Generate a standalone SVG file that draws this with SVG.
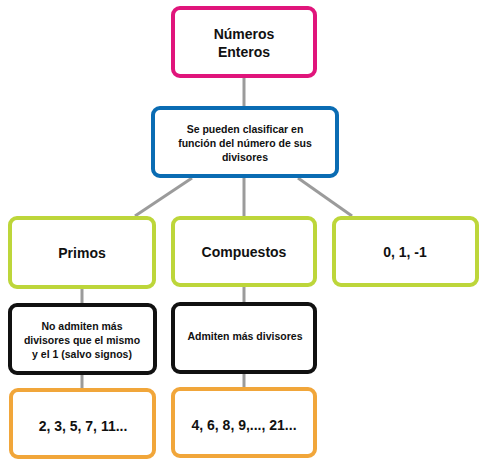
<svg xmlns="http://www.w3.org/2000/svg" width="486" height="464" viewBox="0 0 486 464">
<style>
.box{fill:#fff;stroke-width:4}
.pink{stroke:#e0157b}
.blue{stroke:#0a6cb3}
.green{stroke:#bdd63a}
.black{stroke:#111}
.orange{stroke:#f1a63a}
.c{stroke:#9b9b9b;stroke-width:3;fill:none}
text{font-family:"Liberation Sans",Arial,sans-serif;font-weight:bold;fill:#111;text-anchor:middle}
.t14{font-size:14px}
.t105{font-size:10.5px}
</style>
<rect width="486" height="464" fill="#fff"/>
<g id="connectors">
<line class="c" x1="244" y1="78" x2="244" y2="106"/>
<line class="c" x1="192" y1="178" x2="135" y2="216"/>
<line class="c" x1="244" y1="178" x2="244" y2="216"/>
<line class="c" x1="298" y1="178" x2="352" y2="216"/>
<line class="c" x1="82" y1="289" x2="82" y2="303"/>
<line class="c" x1="244" y1="287" x2="244" y2="302"/>
<line class="c" x1="82" y1="375" x2="82" y2="388"/>
<line class="c" x1="244" y1="374" x2="244" y2="387"/>
</g>
<g id="numeros-enteros">
<rect class="box pink" x="173" y="8" width="142" height="68" rx="7"/>
<text class="t14" x="244" y="39">Números</text>
<text class="t14" x="244" y="57">Enteros</text>
</g>
<g id="clasificar">
<rect class="box blue" x="153" y="108" width="184" height="68" rx="7"/>
<text class="t105" x="245" y="133">Se pueden clasificar en</text>
<text class="t105" x="245" y="147">función del número de sus</text>
<text class="t105" x="245" y="161">divisores</text>
</g>
<g id="primos">
<rect class="box green" x="10" y="218" width="144" height="69" rx="7"/>
<text class="t14" x="82" y="258">Primos</text>
</g>
<g id="compuestos">
<rect class="box green" x="173" y="218" width="142" height="67" rx="7"/>
<text class="t14" x="244" y="257">Compuestos</text>
</g>
<g id="cero-uno">
<rect class="box green" x="334" y="218" width="143" height="67" rx="7"/>
<text class="t14" x="405" y="257">0, 1, -1</text>
</g>
<g id="primos-def">
<rect class="box black" x="10" y="305" width="145" height="68" rx="7"/>
<text class="t105" x="82" y="330">No admiten más</text>
<text class="t105" x="82" y="344">divisores que el mismo</text>
<text class="t105" x="82" y="358">y el 1 (salvo signos)</text>
</g>
<g id="compuestos-def">
<rect class="box black" x="173" y="304" width="142" height="68" rx="7"/>
<text class="t105" x="245" y="340">Admiten más divisores</text>
</g>
<g id="primos-ej">
<rect class="box orange" x="11" y="390" width="143" height="67" rx="7"/>
<text class="t14" x="83" y="431">2, 3, 5, 7, 11...</text>
</g>
<g id="compuestos-ej">
<rect class="box orange" x="173" y="389" width="142" height="67" rx="7"/>
<text class="t14" x="244" y="430">4, 6, 8, 9,..., 21...</text>
</g>
</svg>
